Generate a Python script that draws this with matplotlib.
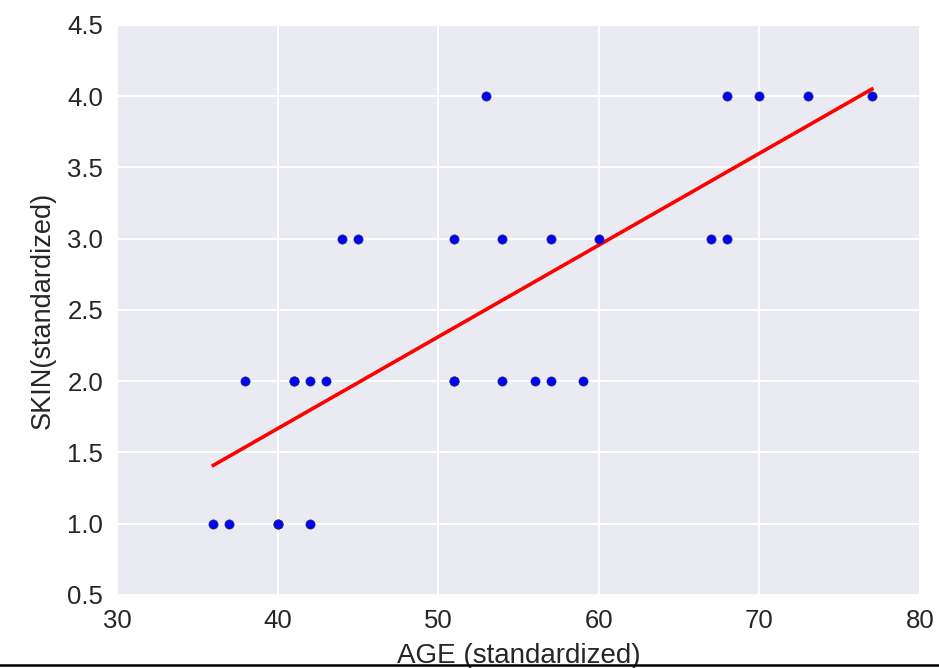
import numpy as np
import matplotlib
matplotlib.use("Agg")
import matplotlib.pyplot as plt
from matplotlib.lines import Line2D

# Datos
age = [36, 37, 40, 40, 42,
       38, 41, 41, 42, 43, 51, 51, 54, 56, 57, 59,
       44, 45, 51, 54, 57, 60, 67, 68,
       53, 68, 70, 73, 77]
skin = [1, 1, 1, 1, 1,
        2, 2, 2, 2, 2, 2, 2, 2, 2, 2, 2,
        3, 3, 3, 3, 3, 3, 3, 3,
        4, 4, 4, 4, 4]

# Recta de regresion (extremos)
fit_x = [36, 77]
fit_y = [1.41, 4.05]

xticks = [30, 40, 50, 60, 70, 80]
yticks = [0.5, 1.0, 1.5, 2.0, 2.5, 3.0, 3.5, 4.0, 4.5]

plt.rcParams['font.family'] = ['Liberation Sans', 'DejaVu Sans']

fig = plt.figure(figsize=(9.39, 6.68), dpi=100)
ax = fig.add_axes([0.1246, 0.1093, 0.8552, 0.8533])
ax.set_facecolor('#EAEAF2')
for s in ax.spines.values():
    s.set_visible(False)
ax.grid(True, color='white', linewidth=1.4)
ax.set_axisbelow(True)

ax.scatter(age, skin, s=44, color='#0000FF', edgecolors='#333355', linewidths=0.5, zorder=3)
ax.plot(fit_x, fit_y, color='#FF0000', linewidth=2.6, zorder=2)

ax.set_xlim(30, 80)
ax.set_ylim(0.5, 4.5)
ax.set_xticks(xticks)
ax.set_yticks(yticks)
ax.set_yticklabels(['%.1f' % v for v in yticks])
ax.tick_params(length=0, labelsize=18.5, colors='#262626')
ax.tick_params(axis='x', pad=10)
ax.tick_params(axis='y', pad=10)
ax.set_xlabel('AGE (standardized)', fontsize=20, color='#262626', labelpad=7)
ax.set_ylabel('SKIN(standardized)', fontsize=19.5, color='#262626', labelpad=8)

# linea negra inferior de la captura
fig.add_artist(Line2D([0, 1], [3 / 668, 3 / 668], color='black', linewidth=1.8,
                      transform=fig.transFigure))

fig.savefig('out.png', dpi=100)
